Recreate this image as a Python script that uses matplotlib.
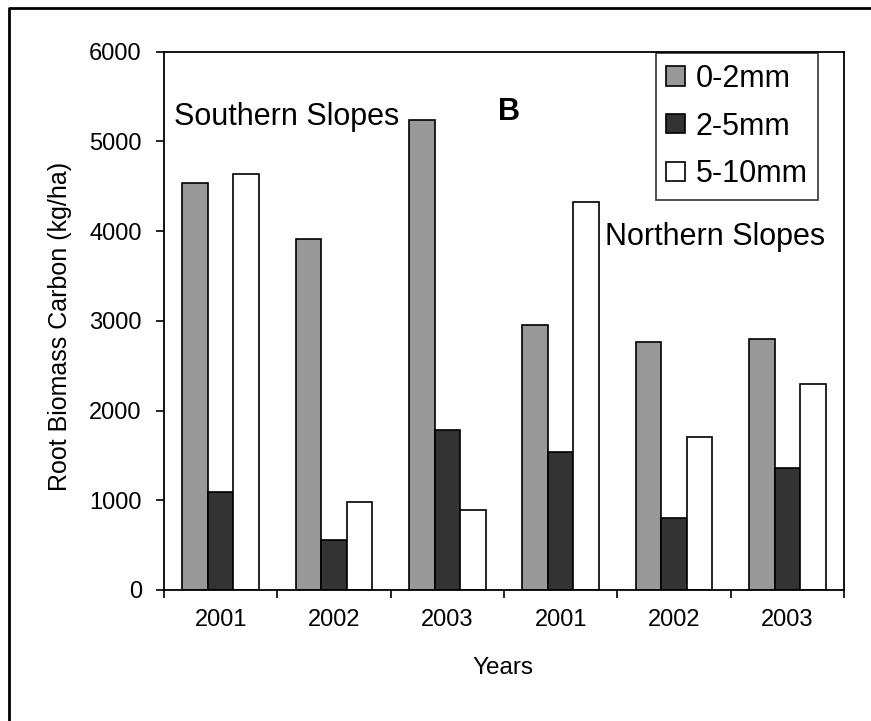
import numpy as np
import matplotlib
matplotlib.use("Agg")
import matplotlib.pyplot as plt
from matplotlib.lines import Line2D

plt.rcParams["font.family"] = ["Liberation Sans", "DejaVu Sans"]

years = ["2001", "2002", "2003", "2001", "2002", "2003"]
fine = [4530, 3910, 5240, 2950, 2760, 2800]      # 0-2mm
medium = [1090, 560, 1780, 1540, 800, 1360]      # 2-5mm
coarse = [4630, 980, 890, 4320, 1710, 2290]      # 5-10mm
series_labels = ["0-2mm", "2-5mm", "5-10mm"]
series_colors = ["#999999", "#333333", "#ffffff"]

fig = plt.figure(figsize=(8.71, 7.21), dpi=100)
ax = fig.add_axes([164 / 871, 1 - 590 / 721, 680 / 871, 538.5 / 721])

x = np.arange(len(years))
w = 0.225
for i, (vals, lab, col) in enumerate(zip([fine, medium, coarse], series_labels, series_colors)):
    ax.bar(x + (i - 1) * w, vals, w, color=col, edgecolor="black",
           linewidth=1.2, label=lab)

ax.set_xlim(-0.5, len(years) - 0.5)
ax.set_ylim(0, 6000)
ax.set_yticks(range(0, 6001, 1000))
ax.set_xticks(x)
ax.set_xticklabels(years)
ax.set_xticks(np.arange(-0.5, len(years), 1.0), minor=True)
ax.tick_params(axis="x", which="major", length=0, pad=14, labelsize=17)
ax.tick_params(axis="x", which="minor", length=6, width=1.2, direction="out")
ax.tick_params(axis="y", length=6, width=1.2, direction="out", pad=10, labelsize=17)
for s in ax.spines.values():
    s.set_linewidth(1.3)

ax.set_ylabel("Root Biomass Carbon (kg/ha)", fontsize=18)
ax.yaxis.set_label_coords(-0.135, 0.49)
ax.set_xlabel("Years", fontsize=17.5)
ax.xaxis.set_label_coords(0.498, -0.125)

ax.text(0.0147, 0.8635, "Southern Slopes", transform=ax.transAxes,
        fontsize=22, va="baseline", ha="left")
ax.text(0.6485, 0.6407, "Northern Slopes", transform=ax.transAxes,
        fontsize=22, va="baseline", ha="left")
ax.text(0.491, 0.873, "B", transform=ax.transAxes,
        fontsize=22, fontweight="bold", va="baseline", ha="left")

leg = ax.legend(loc="upper right", bbox_to_anchor=(0.9618, 0.997),
                borderaxespad=0, fontsize=22, frameon=True, fancybox=False,
                edgecolor="black", handlelength=0.6, handleheight=0.6,
                handletextpad=0.35, labelspacing=0.58, borderpad=0.35)
leg.get_frame().set_linewidth(1.2)

# outer frame (only left and top edges show in the picture)
fig.add_artist(Line2D([9 / 871, 9 / 871, 1.0], [0.0, 1 - 8 / 721, 1 - 8 / 721],
                      transform=fig.transFigure, color="black", linewidth=2))

fig.savefig("out.png", dpi=100)
